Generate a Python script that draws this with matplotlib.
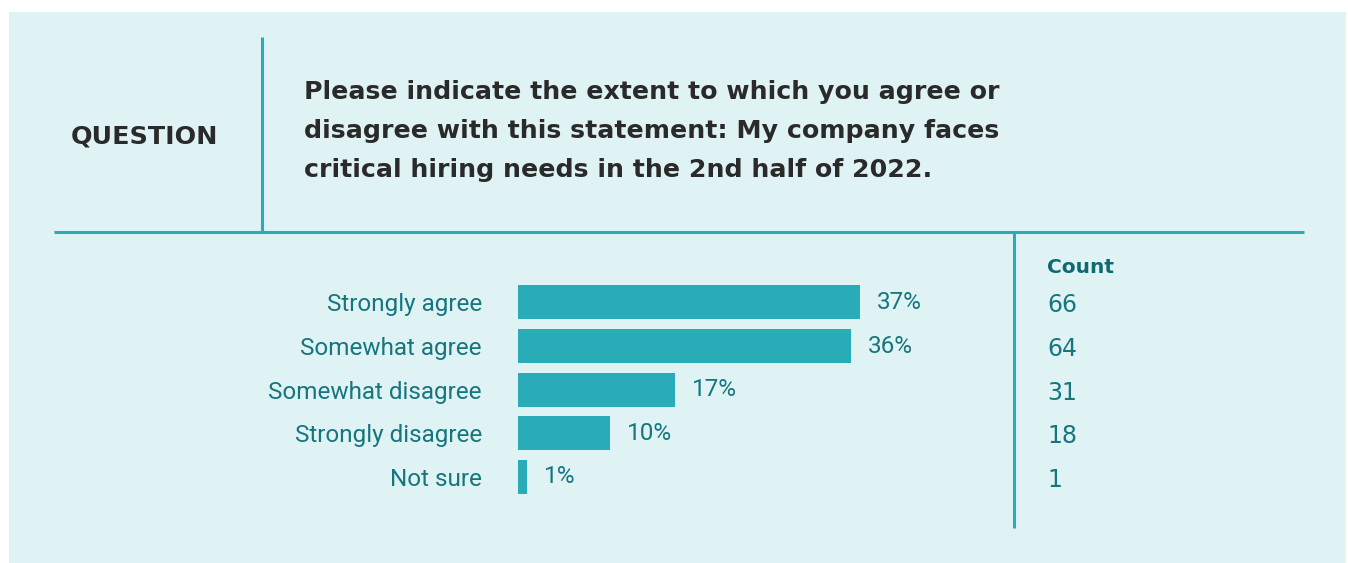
import matplotlib
matplotlib.use("Agg")
import matplotlib.pyplot as plt
from matplotlib.patches import Rectangle
from matplotlib.lines import Line2D

# Survey responses
categories = ["Strongly agree", "Somewhat agree", "Somewhat disagree",
              "Strongly disagree", "Not sure"]
percents = [37, 36, 17, 10, 1]
counts = [66, 64, 31, 18, 1]

question_label = "QUESTION"
question_text = ("Please indicate the extent to which you agree or\n"
                 "disagree with this statement: My company faces\n"
                 "critical hiring needs in the 2nd half of 2022.")
count_header = "Count"

W, H = 1348, 563
PANEL = "#DFF2F4"
TEAL = "#2AACB8"
LABEL = "#16767E"
HEAD = "#0E6A72"
DARK = "#2A2A2A"

fig = plt.figure(figsize=(W / 100, H / 100), dpi=100)
fig.patch.set_facecolor("white")

def fx(px):
    return px / W

def fy(py):
    return 1 - py / H

# background panel
fig.patches.append(Rectangle((fx(9), 0), fx(W - 9 - 2), fy(12), transform=fig.transFigure,
                             facecolor=PANEL, edgecolor="none", zorder=-5))

# divider lines
for (x0, y0, x1, y1) in [(262, 37, 262, 232), (54, 232, 1304, 232), (1014, 232, 1014, 528)]:
    fig.add_artist(Line2D([fx(x0), fx(x1)], [fy(y0), fy(y1)], transform=fig.transFigure,
                          color=TEAL, lw=2.2, solid_capstyle="butt", zorder=2))

# header texts
fig.text(fx(71), fy(136), question_label, fontsize=18.3, fontweight="bold",
         color=DARK, family="DejaVu Sans", va="center", ha="left")
fig.text(fx(304), fy(131), question_text, fontsize=18.2, fontweight="bold",
         color=DARK, family="DejaVu Sans", va="center", ha="left", linespacing=1.78)

# bar chart axes: left edge at bar origin
ax_left, ax_right = 518, 1000
ax_top, ax_bottom = 282, 500
ax = fig.add_axes([fx(ax_left), fy(ax_bottom), fx(ax_right - ax_left), (ax_bottom - ax_top) / H])
ax.set_zorder(3)
ax.set_facecolor("none")
px_per_pct = 342 / 37.0
ax.set_xlim(0, (ax_right - ax_left) / px_per_pct)
n = len(categories)
ypos = list(range(n))
ax.set_ylim(n - 0.5 + 0.03, -0.5 + 0.03)
ax.barh(ypos, percents, height=0.78, color=TEAL, edgecolor="none")
for spine in ax.spines.values():
    spine.set_visible(False)
ax.set_xticks([])
ax.set_yticks(ypos)
ax.set_yticklabels(categories, fontsize=17.5, color=LABEL, family="Roboto")
ax.tick_params(axis="y", length=0, pad=26)
for y, p in zip(ypos, percents):
    ax.annotate(f"{p}%", (p, y), xytext=(12, 0), textcoords="offset points",
                ha="left", va="center", fontsize=17.5, color=LABEL, family="Roboto")

# count column
fig.text(fx(1047), fy(267), count_header, fontsize=14.5, fontweight="bold",
         color=HEAD, family="DejaVu Sans", va="center", ha="left")
for y, c in zip(ypos, counts):
    ty = ax.transData.transform((0, y))[1]
    fig.text(fx(1047), ty / H - 3 / H, str(c), fontsize=17, color=LABEL,
             family="DejaVu Sans", va="center", ha="left")

fig.savefig("out.png", dpi=100, facecolor=fig.get_facecolor())
